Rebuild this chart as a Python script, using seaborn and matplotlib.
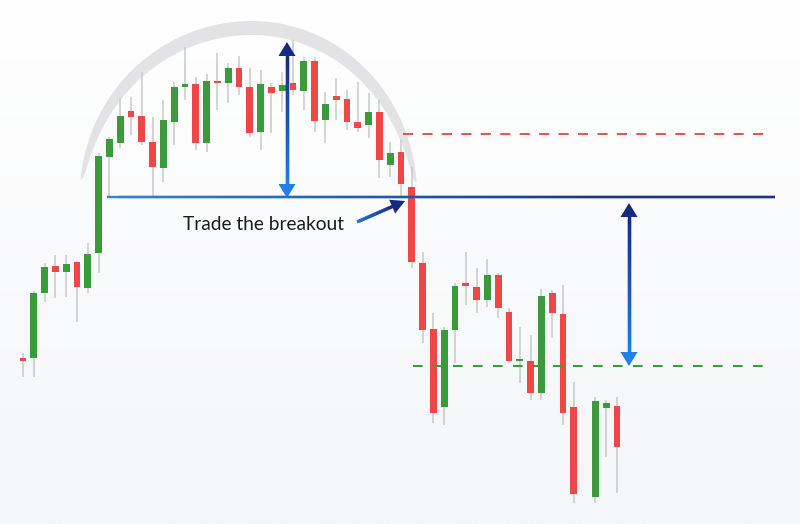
import numpy as np
import matplotlib
matplotlib.use("Agg")
import matplotlib.pyplot as plt
import seaborn as sns
from matplotlib.collections import LineCollection
from matplotlib.patches import Polygon
from matplotlib.colors import to_rgb

# ---------------- data (price units) ----------------
opens  = [166, 166, 231, 258, 252, 262, 236, 271, 367, 381, 413, 408, 382, 356, 402, 437,
          440, 381, 443, 441, 456, 437, 392, 437, 433, 441, 433, 463, 404, 428, 425, 402,
          399, 412, 359, 372, 337, 261, 195, 117, 194, 241, 237, 224, 249, 212, 163, 163,
          131, 231, 210, 117, np.nan, 27, 116, 118]
highs  = [171, 233, 261, 269, 269, 263, 281, 371, 387, 426, 427, 452, 407, 424, 442, 477,
          447, 450, 471, 461, 468, 456, 454, 441, 452, 484, 467, 467, 432, 446, 434, 442,
          431, 424, 382, 384, 357, 272, 211, 197, 241, 272, 256, 265, 251, 216, 197, 189,
          235, 234, 239, 142, np.nan, 127, 124, 127]
lows   = [147, 147, 222, 226, 227, 202, 231, 251, 327, 376, 389, 379, 327, 342, 379, 424,
          374, 372, 414, 421, 429, 387, 374, 391, 412, 429, 414, 392, 381, 404, 394, 392,
          386, 346, 347, 327, 256, 181, 101, 99, 161, 219, 211, 217, 206, 161, 141, 124,
          124, 186, 99, 21, np.nan, 21, 67, 31]
closes = [163, 231, 257, 252, 260, 237, 270, 368, 385, 408, 407, 382, 357, 404, 437, 440,
          381, 443, 441, 456, 437, 391, 440, 431, 439, 434, 463, 403, 420, 424, 402, 396,
          412, 364, 371, 340, 262, 194, 111, 194, 238, 238, 224, 249, 216, 163, 165, 131,
          228, 211, 111, 30, np.nan, 123, 121, 77]

neckline = 327       # breakout level
stop_level = 390     # red dashed level
target_level = 158   # green dashed target
pattern_top = 482    # measured height top
label_text = "Trade the breakout"

# ---------------- style ----------------
sns.set_theme(style="white")
plt.rcParams['font.family'] = ['Lato', 'DejaVu Sans']

GREEN = '#3a9a3c'
RED = '#ee4747'
WICK = '#c8c9cc'
NAVY = '#162a80'
BRIGHT = '#1f80ea'

W, H = 800, 524
fig = plt.figure(figsize=(8, 5.24), dpi=100)
ax = fig.add_axes([0, 0, 1, 1])
x0_px, step_px = 23.0, 10.8
XL = (-x0_px / step_px, (W - x0_px) / step_px)


def P(px, py):
    """pixel position -> data coordinates"""
    return ((np.asarray(px) - x0_px) / step_px, H - np.asarray(py))


# background gradient
g = np.linspace(0, 1, 256)[:, None, None]
top_c = np.array(to_rgb('#ffffff'))
bot_c = np.array(to_rgb('#f5f6f9'))
img = top_c + (bot_c - top_c) * g
ax.imshow(img, extent=[XL[0], XL[1], 0, H], aspect='auto', zorder=0, origin='upper')

# ---------------- rounding-top arc ----------------
cx, cy, ry = 252.0, 195.0, 174.0
th0, th1 = np.deg2rad(4), np.deg2rad(175)
th = np.linspace(th0, th1, 300)
rx = np.where(np.cos(th) < 0, 172.0, 165.0)
tt = 14.0 * np.sin(np.pi * (th - th0) / (th1 - th0)) ** 0.45
ox, oy = cx + rx * np.cos(th), cy - ry * np.sin(th)
ix, iy = cx + (rx - tt) * np.cos(th), cy - (ry - tt) * np.sin(th)
px_poly = np.concatenate([ox, ix[::-1]])
py_poly = np.concatenate([oy, iy[::-1]])
dx_, dy_ = P(px_poly, py_poly)
ax.add_patch(Polygon(np.column_stack([dx_, dy_]), closed=True, fc='#e3e3e5', ec='none', zorder=1))

# ---------------- candles ----------------
o = np.array(opens, float); c = np.array(closes, float)
hi = np.array(highs, float); lo = np.array(lows, float)
idx = np.arange(len(o))
m = ~np.isnan(o)
ax.vlines(idx[m], lo[m], hi[m], color=WICK, lw=1.1, zorder=2)
cols = np.where(c[m] >= o[m], GREEN, RED)
ax.bar(idx[m], np.maximum(np.abs(c[m] - o[m]), 2.0), bottom=np.minimum(o[m], c[m]),
       width=0.64, color=cols, linewidth=0, zorder=3)


# ---------------- gradient line helper ----------------
def grad_line(p0, p1, c0, c1, lw, n=40, z=5, ramp=1.0):
    xs_ = np.linspace(p0[0], p1[0], n + 1); ys_ = np.linspace(p0[1], p1[1], n + 1)
    X, Y = P(xs_, ys_)
    ca, cb = np.array(to_rgb(c0)), np.array(to_rgb(c1))
    t = np.clip(np.linspace(0, 1, n) / ramp, 0, 1)[:, None]
    colors = ca + (cb - ca) * t
    # draw each piece slightly overlapping the next to avoid seams
    for i in range(n):
        j = min(i + 2, n)
        ax.plot([X[i], X[j]], [Y[i], Y[j]], color=colors[i], lw=lw,
                solid_capstyle='butt', zorder=z + i * 1e-4)


# ---------------- levels ----------------
grad_line((107, H - neckline), (775, H - neckline), '#2d84d8', '#1b3584', 1.7, n=60, z=4, ramp=0.75)
ax.hlines(stop_level, P(403, 0)[0], P(772, 0)[0], colors='#e8524f', lw=1.4,
          linestyles=(0, (5.2, 4.8)), zorder=4)
ax.hlines(target_level, P(413, 0)[0], P(768, 0)[0], colors='#3d9a3d', lw=1.5,
          linestyles=(0, (4.6, 5.0)), zorder=4)


# ---------------- arrows ----------------
def head(tip, direction, color, length=14.0, half=8.5):
    d = np.array(direction, float); d /= np.linalg.norm(d)
    nrm = np.array([-d[1], d[0]])
    tip = np.array(tip, float)
    base = tip - d * length
    pts = np.array([tip, base + nrm * half, base - nrm * half])
    X, Y = P(pts[:, 0], pts[:, 1])
    ax.add_patch(Polygon(np.column_stack([X, Y]), closed=True, fc=color, ec='none', zorder=6))


def double_arrow(xpx, ytop_px, ybot_px):
    grad_line((xpx, ytop_px + 10), (xpx, ybot_px - 10), NAVY, BRIGHT, 2.4, n=30)
    head((xpx, ytop_px), (0, -1), NAVY)
    head((xpx, ybot_px), (0, 1), BRIGHT)


# measured pattern height
double_arrow(287, H - pattern_top, H - neckline + 1)
# projected move
double_arrow(629, H - neckline + 6, H - target_level)
# pointer to breakout
tail = np.array([357.0, 222.0]); tip = np.array([405.0, 201.0])
dvec = (tip - tail) / np.linalg.norm(tip - tail)
grad_line(tail, tip - dvec * 10, '#2a72d2', NAVY, 2.3, n=20)
head(tip, dvec, NAVY, length=14.0, half=7.5)

# ---------------- label ----------------
tx, ty = P(183, 224)
txt = ax.text(tx, ty, label_text, fontsize=13, color='#1c1c1e', ha='left', va='center', zorder=7)
fig.canvas.draw()
wpx = txt.get_window_extent().width
txt.set_fontsize(13 * 161.0 / wpx)

ax.set_xlim(*XL)
ax.set_ylim(0, H)
ax.axis('off')
fig.savefig('out.png', dpi=100)
